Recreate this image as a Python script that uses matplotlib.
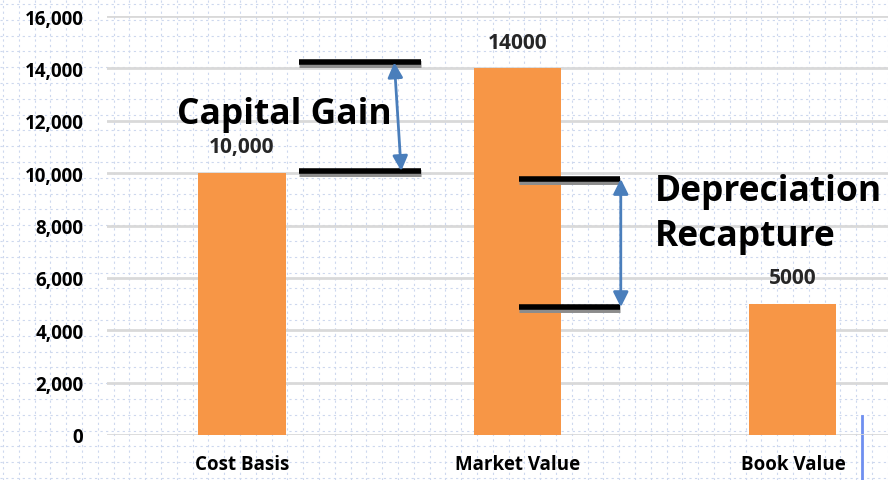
import matplotlib
matplotlib.use("Agg")
import matplotlib.pyplot as plt
import numpy as np

categories = ["Cost Basis", "Market Value", "Book Value"]
values = [10000, 14000, 5000]
value_labels = ["10,000", "14000", "5000"]
yticks = [0, 2000, 4000, 6000, 8000, 10000, 12000, 14000, 16000]
ytick_labels = ["0", "2,000", "4,000", "6,000", "8,000", "10,000", "12,000", "14,000", "16,000"]

# annotation levels (data units)
gain_levels = [14230, 10080]
recap_levels = [9780, 4880]

FONT = ["Open Sans", "DejaVu Sans"]

W, H = 888, 481
fig = plt.figure(figsize=(W / 100, H / 100), dpi=100)
fig.patch.set_facecolor("white")

bg = fig.add_axes([0, 0, 1, 1], zorder=0)
bg.set_xlim(0, W)
bg.set_ylim(H, 0)
bg.axis("off")
for x in np.arange(3, W, 15.8):
    bg.axvline(x, color="#CDD8EE", lw=0.8, ls=(0, (2, 3)))
for y in np.arange(5, H, 15.8):
    bg.axhline(y, color="#CDD8EE", lw=0.8, ls=(0, (2, 3)))
bg.plot([862, 862], [417, 481], color="#6F8FF0", lw=2)

ax = fig.add_axes([107 / W, 45 / H, 1 - 107 / W, 419 / H], zorder=1)
ax.patch.set_alpha(0)
x = np.arange(len(categories))
ax.bar(x, values, width=0.316, color="#F79646", zorder=3)
ax.set_ylim(0, 16000)
ax.set_xlim(-0.49, 2.345)
ax.set_yticks(yticks)
ax.set_yticklabels(ytick_labels, fontsize=13.5, fontweight="bold", family=FONT)
ax.set_xticks(x)
ax.set_xticklabels(categories, fontsize=13.5, fontweight="bold", family=FONT)
ax.tick_params(length=0, pad=17, axis="y")
ax.tick_params(length=0, pad=14, axis="x")
for s in ax.spines.values():
    s.set_visible(False)
ax.grid(axis="y", color="#D9D9D9", lw=2, zorder=1)
ax.set_axisbelow(True)

for xi, v, lab in zip(x, values, value_labels):
    ax.text(xi, v + 600, lab, ha="center", va="bottom", fontsize=15,
            fontweight="bold", family=FONT, color="#262626")

def hline(x0, x1, y):
    ax.plot([x0, x1], [y - 80, y - 80], color="#8C8C8C", lw=5, zorder=4,
            solid_capstyle="butt")
    ax.plot([x0, x1], [y, y], color="black", lw=4, zorder=5, solid_capstyle="butt")

for y in gain_levels:
    hline(0.207, 0.651, y)
for y in recap_levels:
    hline(1.004, 1.371, y)

arrow_kw = dict(arrowstyle="<|-|>,head_length=0.9,head_width=0.45", color="#4A7EBB", lw=2,
                shrinkA=0, shrinkB=0)
ax.annotate("", xy=(0.553, gain_levels[0]), xytext=(0.578, gain_levels[1]),
            arrowprops=arrow_kw, zorder=6)
ax.annotate("", xy=(1.375, recap_levels[0]), xytext=(1.375, recap_levels[1]),
            arrowprops=arrow_kw, zorder=6)

tk = dict(fontsize=25.5, fontweight="bold", family=FONT, ha="left", va="center",
          color="black", zorder=7)
ax.text(-0.235, 12250, "Capital Gain", **tk)
ax.text(1.5, 9300, "Depreciation", **tk)
ax.text(1.5, 7600, "Recapture", **tk)

fig.savefig("out.png", dpi=100)
